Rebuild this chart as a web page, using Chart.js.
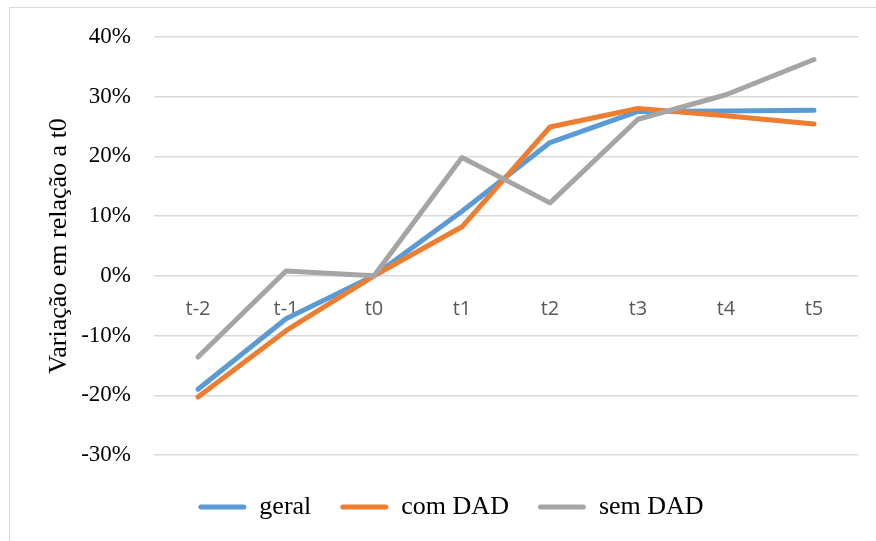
<!DOCTYPE html>
<html>

<head>
    <title>Variação em relação a t0</title>
    <script src="https://cdn.jsdelivr.net/npm/chart.js"></script>
    <style>
        body { margin: 0; overflow: hidden; background: #fff; }
        #wrap { position: relative; width: 876px; height: 541px; }
        #frame { position: absolute; left: 9px; top: 7px; width: 900px; height: 600px; border: 1px solid #d9d9d9; }
        canvas { position: absolute; left: 0; top: 0; }
    </style>
</head>

<body>
    <div id="wrap">
        <div id="frame"></div>
        <canvas id="myChart" width="876" height="541"></canvas>
    </div>
    <script>
        // dados (%)
        const periodos = ['t-2', 't-1', 't0', 't1', 't2', 't3', 't4', 't5'];
        const geral = [-19.0, -7.2, 0, 10.8, 22.3, 27.5, 27.6, 27.7];
        const comDAD = [-20.3, -9.2, 0, 8.2, 24.9, 28.0, 26.8, 25.4];
        const semDAD = [-13.6, 0.8, 0, 19.8, 12.2, 26.2, 30.3, 36.2];
        const yTicks = [-30, -20, -10, 0, 10, 20, 30, 40];

        function serie(label, data, cor, ordem) {
            return {
                label: label,
                data: data,
                borderColor: cor,
                backgroundColor: cor,
                borderWidth: 5,
                borderCapStyle: 'round',
                borderJoinStyle: 'round',
                pointRadius: 0,
                tension: 0,
                order: ordem
            };
        }

        var ctx = document.getElementById('myChart').getContext('2d');
        var myChart = new Chart(ctx, {
            type: 'line',
            data: {
                labels: periodos,
                datasets: [
                    serie('geral', geral, '#5B9BD5', 3),
                    serie('com DAD', comDAD, '#ED7D31', 2),
                    serie('sem DAD', semDAD, '#A5A5A5', 1)
                ]
            },
            options: {
                responsive: false,
                animation: false,
                layout: { padding: { top: 36, right: 18, bottom: 11, left: 44 } },
                scales: {
                    x: {
                        position: { y: 0 },
                        offset: true,
                        grid: { display: false },
                        border: { display: false },
                        ticks: {
                            color: '#595959',
                            font: { family: 'Open Sans', size: 20 },
                            padding: 14
                        }
                    },
                    gap: {
                        type: 'category',
                        position: 'bottom',
                        grid: { display: false },
                        border: { display: false },
                        ticks: { display: false },
                        afterFit: function (s) { s.height = 10; }
                    },
                    y: {
                        min: -30,
                        max: 40,
                        afterFit: function (s) { s.width = 110; },
                        afterBuildTicks: function (s) { s.ticks = yTicks.map(v => ({ value: v })); },
                        grid: { color: '#d9d9d9', lineWidth: 1.5, drawTicks: false },
                        border: { display: false },
                        ticks: {
                            color: '#000',
                            font: { family: 'Liberation Serif', size: 23 },
                            padding: 23,
                            callback: v => v + '%'
                        },
                        title: {
                            display: true,
                            text: 'Variação em relação a t0',
                            color: '#000',
                            font: { family: 'Liberation Serif', size: 26 },
                            padding: { top: 0, bottom: 0 }
                        }
                    }
                },
                plugins: {
                    tooltip: { enabled: false },
                    legend: {
                        position: 'bottom',
                        labels: {
                            color: '#000',
                            font: { family: 'Liberation Serif', size: 26 },
                            boxWidth: 48,
                            boxHeight: 5,
                            padding: 29,
                            useBorderRadius: true,
                            borderRadius: 2.5,
                            sort: (a, b) => a.datasetIndex - b.datasetIndex,
                            generateLabels: function (chart) {
                                return Chart.defaults.plugins.legend.labels.generateLabels(chart).map(function (l) {
                                    l.lineWidth = 0;
                                    l.strokeStyle = 'rgba(0,0,0,0)';
                                    return l;
                                });
                            }
                        }
                    }
                }
            }
        });
    </script>
</body>

</html>
